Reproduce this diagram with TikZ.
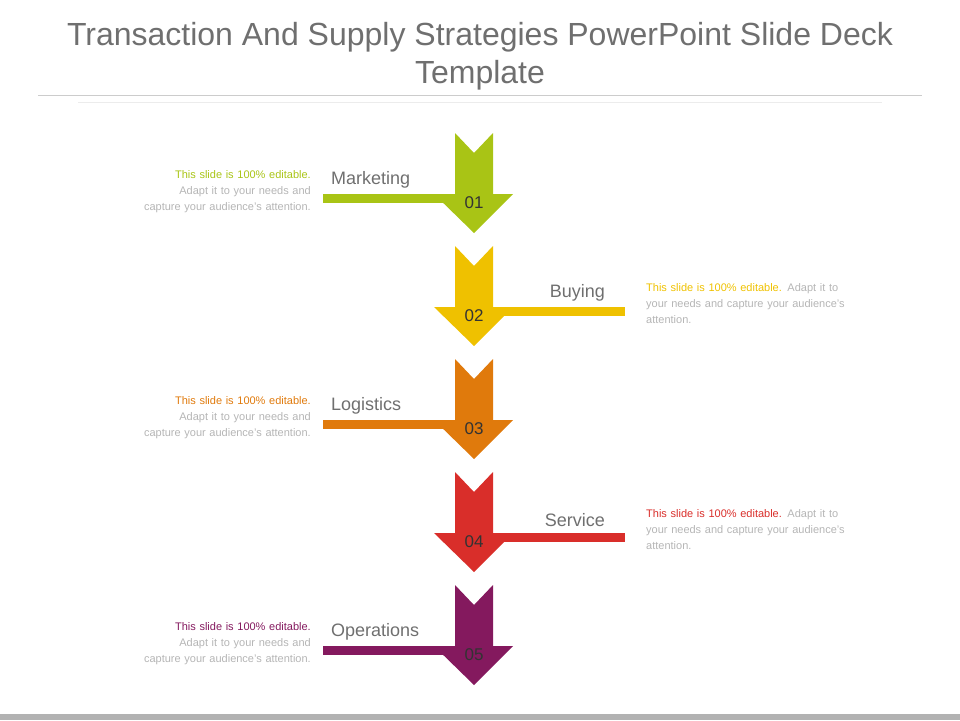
\documentclass[tikz,border=0pt]{standalone}
\usepackage{fontspec}
\setmainfont{Liberation Sans}
\hyphenpenalty=10000
\exhyphenpenalty=10000
\definecolor{c1}{HTML}{A9C415}
\definecolor{c2}{HTML}{EFC100}
\definecolor{c3}{HTML}{E07A0C}
\definecolor{c4}{HTML}{D92E2A}
\definecolor{c5}{HTML}{84195E}
\definecolor{tg}{HTML}{6F6F6F}
\definecolor{lg}{HTML}{B5B5B5}
\begin{document}
\begin{tikzpicture}[x=1pt,y=-1pt,
 lbl/.style={text=tg,font=\fontsize{18}{20}\selectfont,inner sep=0},
 num/.style={text=black!80,font=\fontsize{17}{19}\selectfont,inner sep=0},
 desc/.style={text=lg,font=\fontsize{11}{16}\selectfont,inner sep=0,text width=200pt}]
\useasboundingbox (0,0) rectangle (960,720);
\node[text=tg,font=\fontsize{32}{38}\selectfont,align=center] (title) at (480,56) {Transaction And Supply Strategies PowerPoint Slide Deck\\Template};
\draw[gray!40,line width=1] (38,95) -- (922,95);
\draw[gray!15,line width=1] (78,102) -- (882,102);
\fill[gray!60] (0,714) rectangle (960,720);
\foreach \i/\c/\side/\name in {0/c1/L/Marketing,1/c2/R/Buying,2/c3/L/Logistics,3/c4/R/Service,4/c5/L/Operations}{
 \pgfmathsetmacro{\t}{133+113*\i}
 \begin{scope}[yshift={-\t pt}]
 \if L\side
   \fill[\c] (323,61) rectangle (460,70);
   \node[lbl,anchor=south west] (lab\i) at (331,55) {\name};
   \node[desc,anchor=north east,align=right] (d\i) at (311,37) {\textcolor{\c}{This slide is 100\% editable.} Adapt it to your needs and capture your audience's attention.};
 \else
   \fill[\c] (490,61) rectangle (625,70);
   \node[lbl,anchor=south east] (lab\i) at (605,55) {\name};
   \node[desc,anchor=north west,align=left] (d\i) at (646,37) {\textcolor{\c}{This slide is 100\% editable.} Adapt it to your needs and capture your audience's attention.};
 \fi
 \fill[\c] (455,0) -- (474,20) -- (493,0) -- (493,61) -- (513,61) -- (474,100) -- (434,61) -- (455,61) -- cycle;
 \node[num] (n\i) at (474,70) {0\the\numexpr\i+1\relax};
 \end{scope}
}
\end{tikzpicture}
\end{document}
